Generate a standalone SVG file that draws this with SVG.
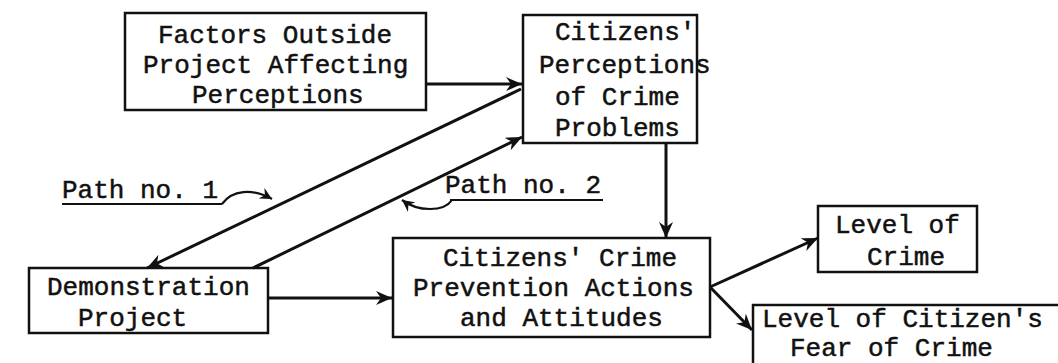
<svg xmlns="http://www.w3.org/2000/svg" width="1058" height="363" viewBox="0 0 1058 363">
<style>
.box{fill:none;stroke:#111;stroke-width:2.5}
.t{font-family:"Liberation Mono","DejaVu Sans Mono",monospace;font-size:26px;fill:#111;stroke:#111;stroke-width:0.5}
.c{fill:none;stroke:#111;stroke-width:3}
.thin{fill:none;stroke:#111;stroke-width:2.2}
.ul{stroke:#111;stroke-width:2}
</style>
<defs>
<marker id="ah" markerUnits="userSpaceOnUse" markerWidth="18" markerHeight="14" refX="16" refY="7" orient="auto">
<path d="M0,0 L16,7 L0,14 L5,7 Z" fill="#111"/>
</marker>
<marker id="ahs" markerUnits="userSpaceOnUse" markerWidth="14" markerHeight="12" refX="12" refY="6" orient="auto">
<path d="M0,0 L12,6 L0,12 L4,6 Z" fill="#111"/>
</marker>
</defs>
<rect width="1058" height="363" fill="#fff"/>
<g id="factors">
<rect class="box" x="125" y="13" width="301" height="97"/>
<text class="t" x="158" y="43">Factors Outside</text>
<text class="t" x="143" y="73">Project Affecting</text>
<text class="t" x="192" y="103">Perceptions</text>
</g>
<g id="perceptions">
<rect class="box" x="523" y="15" width="174" height="128"/>
<text class="t" x="555" y="40">Citizens'</text>
<text class="t" x="539" y="73">Perceptions</text>
<text class="t" x="555" y="105">of Crime</text>
<text class="t" x="555" y="136">Problems</text>
</g>
<g id="demonstration">
<rect class="box" x="29" y="268" width="239" height="65"/>
<text class="t" x="47" y="295">Demonstration</text>
<text class="t" x="78" y="326">Project</text>
</g>
<g id="actions">
<rect class="box" x="393" y="238" width="317" height="99"/>
<text class="t" x="443" y="266">Citizens' Crime</text>
<text class="t" x="413" y="296">Prevention Actions</text>
<text class="t" x="460" y="326">and Attitudes</text>
</g>
<g id="levelcrime">
<rect class="box" x="818" y="206" width="159" height="66"/>
<text class="t" x="835" y="233">Level of</text>
<text class="t" x="867" y="265">Crime</text>
</g>
<g id="fear">
<rect class="box" x="753" y="305" width="320" height="80"/>
<text class="t" x="762" y="327">Level of Citizen's</text>
<text class="t" x="790" y="356">Fear of Crime</text>
</g>
<g id="path1label">
<text class="t" x="62" y="198">Path no. 1</text>
<line class="ul" x1="62" y1="204" x2="222" y2="204"/>
</g>
<g id="path2label">
<text class="t" x="445" y="193">Path no. 2</text>
<line class="ul" x1="450" y1="200" x2="603" y2="200"/>
</g>
<g id="connectors">
<line class="c" x1="426" y1="84" x2="522" y2="84" marker-end="url(#ah)"/>
<line class="c" x1="521" y1="89" x2="147" y2="268" marker-end="url(#ah)"/>
<line class="c" x1="253" y1="268" x2="522" y2="137" marker-end="url(#ah)"/>
<line class="c" x1="666" y1="143" x2="666" y2="238" marker-end="url(#ah)"/>
<line class="c" x1="268" y1="298" x2="392" y2="298" marker-end="url(#ah)"/>
<line class="c" x1="710" y1="287" x2="818" y2="238" marker-end="url(#ah)"/>
<line class="c" x1="710" y1="287" x2="752" y2="330" marker-end="url(#ah)"/>
<path class="thin" d="M222,204 C232,190 252,188 272,199" marker-end="url(#ahs)"/>
<path class="thin" d="M452,200 C444,212 418,212 402,200" marker-end="url(#ahs)"/>
</g>
</svg>
